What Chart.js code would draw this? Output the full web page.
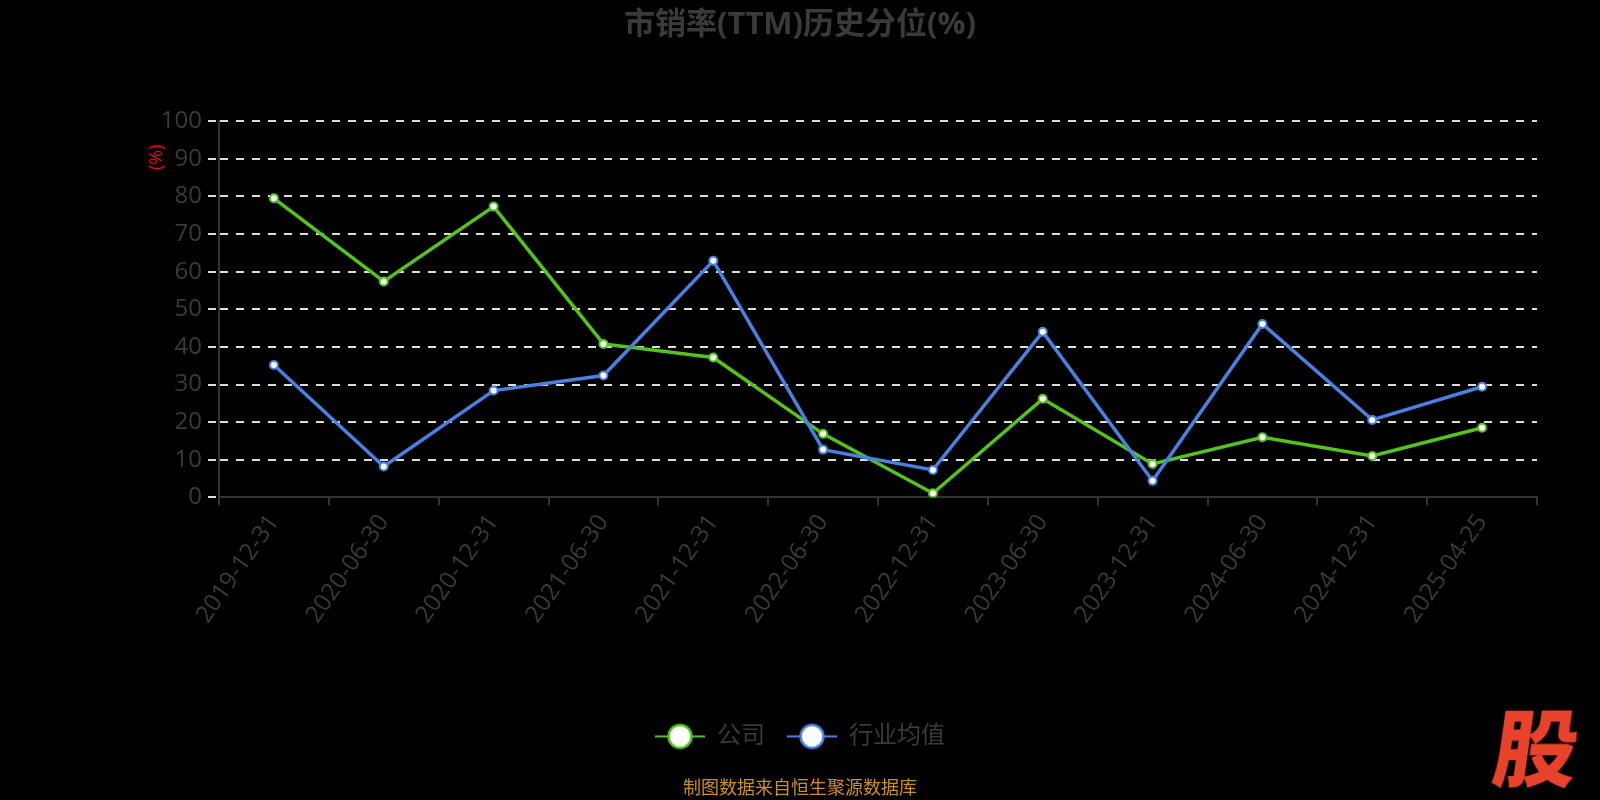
<!DOCTYPE html>
<html lang="zh">
  <head>
    <meta charset="UTF-8" />
    <title>市销率(TTM)历史分位</title>
    <style>
      html, body {
        margin: 0;
        padding: 0;
        background: #000;
      }
      .wrap {
        position: relative;
        width: 1600px;
        height: 800px;
      }
      .logo {
        position: absolute;
        left: 1495px;
        top: 702px;
        font-family: 'Noto Sans CJK SC', sans-serif;
        font-weight: 900;
        font-size: 84px;
        line-height: 1;
        color: #e8432a;
        transform: skewX(-8deg);
      }
    </style>
  </head>
  <body>
    <div class="wrap">
      <canvas id="chart"></canvas>
      <div class="logo">股</div>
    </div>

    <script src="https://cdn.jsdelivr.net/npm/chart.js"></script>

    <script>
      const dates = [
        '2019-12-31', '2020-06-30', '2020-12-31', '2021-06-30',
        '2021-12-31', '2022-06-30', '2022-12-31', '2023-06-30',
        '2023-12-31', '2024-06-30', '2024-12-31', '2025-04-25',
      ];
      // 公司
      const company = [79.5, 57.4, 77.3, 40.8, 37.2, 16.9, 1.1, 26.2, 8.9, 16.0, 11.0, 18.5];
      // 行业均值
      const industry = [35.2, 8.2, 28.4, 32.4, 62.9, 12.7, 7.3, 44.0, 4.4, 46.1, 20.6, 29.4];

      const FONT = "'Open Sans', 'Noto Sans CJK SC', sans-serif";
      const TEXT = '#3a3a3a';
      const green = '#52c41a';
      const blue = '#4a80e0';

      // legend marker: short line with a hollow circle
      function legendIcon(color) {
        const c = document.createElement('canvas');
        c.width = 50;
        c.height = 28;
        const g = c.getContext('2d');
        g.strokeStyle = color;
        g.lineWidth = 2;
        g.beginPath();
        g.moveTo(0, 14);
        g.lineTo(50, 14);
        g.stroke();
        g.beginPath();
        g.arc(25, 14, 11.5, 0, Math.PI * 2);
        g.fillStyle = '#fff';
        g.fill();
        g.lineWidth = 2.5;
        g.stroke();
        return c;
      }
      const icons = [legendIcon(green), legendIcon(blue)];

      // red "(%)" unit label near the top of the y axis
      const unitLabel = {
        id: 'unitLabel',
        afterDraw(chart) {
          const { ctx, chartArea } = chart;
          ctx.save();
          ctx.translate(chartArea.left - 62, chartArea.top + 36);
          ctx.rotate(-Math.PI / 2);
          ctx.font = `18px ${FONT}`;
          ctx.fillStyle = '#ff0000';
          ctx.textAlign = 'center';
          ctx.textBaseline = 'middle';
          ctx.fillText('(%)', 0, 0);
          ctx.restore();
        },
      };

      function series(label, data, color, order) {
        return {
          label,
          data,
          borderColor: color,
          borderWidth: 3.5,
          pointRadius: 4,
          pointBorderWidth: 2,
          pointBackgroundColor: '#fff',
          pointBorderColor: color,
          tension: 0,
          order,
        };
      }

      new Chart(document.getElementById('chart'), {
        type: 'line',
        data: {
          labels: dates,
          datasets: [
            series('公司', company, green, 1),
            series('行业均值', industry, blue, 0),
          ],
        },
        options: {
          responsive: true,
          maintainAspectRatio: false,
          animation: false,
          layout: { padding: 0 },
          scales: {
            x: {
              offset: true,
              afterFit(scale) {
                scale.height = 205;
              },
              border: { display: true, color: '#333', width: 2 },
              grid: {
                offset: true,
                drawOnChartArea: false,
                drawTicks: true,
                tickLength: 8,
                color: '#333',
                lineWidth: 2,
              },
              ticks: {
                font: { family: FONT, size: 24 },
                color: TEXT,
                minRotation: 55,
                maxRotation: 55,
                padding: 4,
              },
            },
            y: {
              min: 0,
              max: 100,
              afterFit(scale) {
                scale.width = 219;
              },
              border: { display: true, color: '#333', width: 2, dash: [8, 8] },
              grid: {
                color: '#dcdcdc',
                lineWidth: 2,
                tickBorderDash: [8, 8],
                tickLength: 11,
              },
              ticks: {
                stepSize: 10,
                font: { family: FONT, size: 24 },
                color: TEXT,
                padding: 6,
              },
            },
            // empty right-hand margin so the title and legend stay centred on the page
            pad: {
              position: 'right',
              display: true,
              afterFit(scale) {
                scale.width = 63;
              },
              border: { display: false },
              grid: { display: false },
              ticks: { display: false },
            },
          },
          plugins: {
            title: {
              display: true,
              text: '市销率(TTM)历史分位(%)',
              color: TEXT,
              font: { family: FONT, size: 31, weight: 'bold' },
              padding: { top: 7, bottom: 77 },
            },
            subtitle: {
              display: true,
              position: 'bottom',
              text: '制图数据来自恒生聚源数据库',
              color: '#cc8f22',
              font: { family: FONT, size: 18 },
              padding: { top: 20, bottom: 0 },
            },
            legend: {
              position: 'bottom',
              labels: {
                usePointStyle: true,
                pointStyleWidth: 50,
                color: TEXT,
                font: { family: FONT, size: 24 },
                padding: 22,
                sort: (a, b) => a.datasetIndex - b.datasetIndex,
                generateLabels(chart) {
                  const items = Chart.defaults.plugins.legend.labels.generateLabels(chart);
                  items.forEach((it) => {
                    it.pointStyle = icons[it.datasetIndex];
                  });
                  return items;
                },
              },
            },
            tooltip: { enabled: false },
          },
        },
        plugins: [unitLabel],
      });
    </script>
  </body>
</html>
